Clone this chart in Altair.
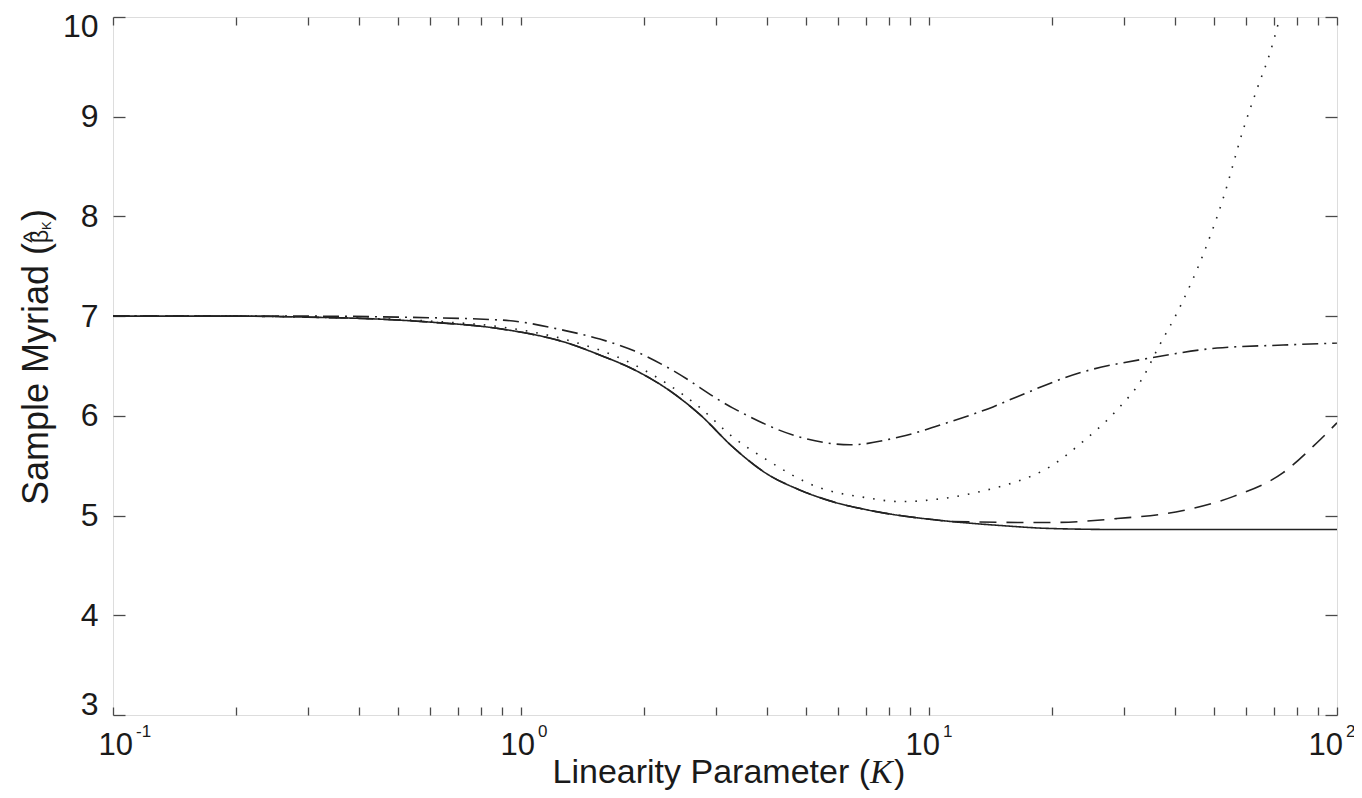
import altair as alt
import pandas as pd

# ---- data ----
k_solid = [0.1, 0.2, 0.3, 0.45, 0.6, 0.9, 1.3, 1.56, 1.9, 2.3, 2.75, 3.3, 4.0, 4.8, 5.8, 7.0, 8.5, 10.2, 15, 20, 30, 50, 100]
v_solid = [7.0, 7.0, 6.99, 6.97, 6.94, 6.87, 6.73, 6.61, 6.46, 6.26, 6.01, 5.69, 5.42, 5.26, 5.14, 5.06, 5.0, 4.96, 4.9, 4.87, 4.86, 4.86, 4.86]

k_dotted = [0.1, 0.2, 0.3, 0.6, 0.9, 1.3, 1.9, 2.75, 3.3, 4.0, 5.3, 7.0, 8.5, 11.2, 14.9, 16.4, 19.8, 23.8, 28.9, 33.5, 36.2, 41.2, 47, 52.6, 58.9, 63.7, 68.5, 72.5]
v_dotted = [7.0, 7.0, 6.99, 6.95, 6.89, 6.76, 6.51, 6.08, 5.79, 5.56, 5.29, 5.18, 5.14, 5.18, 5.29, 5.34, 5.49, 5.74, 6.06, 6.39, 6.66, 7.09, 7.62, 8.18, 8.87, 9.28, 9.64, 10.0]

k_dashdot = [0.1, 0.3, 0.5, 0.9, 1.3, 1.56, 1.9, 2.3, 3.3, 4.8, 6.4, 8.5, 11.25, 14.35, 16.4, 23.8, 34.8, 50.8, 73.8, 100]
v_dashdot = [7.0, 7.0, 6.99, 6.96, 6.85, 6.77, 6.65, 6.48, 6.08, 5.79, 5.71, 5.79, 5.94, 6.09, 6.19, 6.44, 6.58, 6.68, 6.71, 6.73]

k_dashed = [0.1, 0.2, 0.3, 0.45, 0.6, 0.9, 1.3, 1.56, 1.9, 2.3, 2.75, 3.3, 4.0, 4.8, 5.8, 7.0, 8.5, 10.2, 11.25, 19.8, 28.9, 42, 55.6, 73.8, 89.3, 100]
v_dashed = [7.0, 7.0, 6.99, 6.97, 6.94, 6.87, 6.73, 6.61, 6.46, 6.26, 6.01, 5.69, 5.42, 5.26, 5.14, 5.06, 5.0, 4.96, 4.94, 4.93, 4.97, 5.05, 5.19, 5.43, 5.73, 5.93]

x_ticks = [0.1, 0.2, 0.3, 0.4, 0.5, 0.6, 0.7, 0.8, 0.9,
           1, 2, 3, 4, 5, 6, 7, 8, 9,
           10, 20, 30, 40, 50, 60, 70, 80, 90, 100]
y_ticks = [3, 4, 5, 6, 7, 8, 9, 10]
x_label_pos = [0.1, 1, 10, 100]
x_label_exp = ["-1", "0", "1", "2"]

series_order = ["solid", "dotted", "dashdot", "dashed"]

rows = []
for name, ks, vs in [("solid", k_solid, v_solid), ("dotted", k_dotted, v_dotted),
                     ("dashdot", k_dashdot, v_dashdot), ("dashed", k_dashed, v_dashed)]:
    for k, v in zip(ks, vs):
        rows.append({"K": k, "value": v, "series": name})
df = pd.DataFrame(rows)

W, H = 1224, 698
FONT = "Liberation Sans"
INK = "#1a1a1a"
AX = "#4a4a4a"

xscale = alt.Scale(type="log", domain=[0.1, 100], nice=False)
yscale = alt.Scale(domain=[3, 10], nice=False, zero=False)

lines = alt.Chart(df).mark_line(strokeWidth=1.6, color="#222", interpolate="monotone", clip=True).encode(
    x=alt.X("K:Q", scale=xscale,
            axis=alt.Axis(orient="bottom", values=x_ticks, labels=False, title=None, grid=False,
                          domain=False, tickSize=alt.ExprRef("-8"), tickColor=AX, tickWidth=1.3)),
    y=alt.Y("value:Q", scale=yscale,
            axis=alt.Axis(orient="left", values=y_ticks, title=None, grid=False, domain=False,
                          tickSize=alt.ExprRef("-12"), tickColor=AX, tickWidth=1.3,
                          labelFont=FONT, labelFontSize=32, labelColor=INK, labelPadding=27,
                          labelFlush=True, labelFlushOffset=6)),
    strokeDash=alt.StrokeDash("series:N",
                              scale=alt.Scale(domain=series_order,
                                              range=[[1, 0], [1.6, 9], [16, 6, 2, 6], [17, 10]]),
                              legend=None),
    detail="series:N",
)

mirror = alt.Chart(df).mark_line(opacity=0).encode(
    x=alt.X("K:Q", scale=xscale,
            axis=alt.Axis(orient="top", values=x_ticks, labels=False, title=None, grid=False,
                          domain=False, tickSize=alt.ExprRef("-8"), tickColor=AX, tickWidth=1.3)),
    y=alt.Y("value:Q", scale=yscale,
            axis=alt.Axis(orient="right", values=y_ticks, labels=False, title=None, grid=False,
                          domain=False, tickSize=alt.ExprRef("-12"), tickColor=AX, tickWidth=1.3)),
    detail="series:N",
)

# x tick labels: "10" with a raised exponent, one small layer per decade
label_dx = [20, 14, 11, 6]
label_layers = []
for pos, ex, ddx in zip(x_label_pos, x_label_exp, label_dx):
    ldf = pd.DataFrame({"pos": [pos], "exp": [ex]})
    label_layers.append(
        alt.Chart(ldf).mark_text(align="right", baseline="alphabetic", dx=ddx,
                                 font=FONT, fontSize=31, color=INK).encode(
            x=alt.X("pos:Q", scale=xscale, axis=None), y=alt.value(738), text=alt.value("10")))
    label_layers.append(
        alt.Chart(ldf).mark_text(align="left", baseline="alphabetic", dx=ddx + 3,
                                 font=FONT, fontSize=17, color=INK).encode(
            x=alt.X("pos:Q", scale=xscale, axis=None), y=alt.value(720), text="exp:N"))

one = pd.DataFrame({"a": [0]})
XT_Y = 766
xt_main = alt.Chart(one).mark_text(align="right", baseline="alphabetic", font=FONT, fontSize=34, color=INK).encode(
    x=alt.value(757), y=alt.value(XT_Y), text=alt.value("Linearity Parameter ("))
xt_k = alt.Chart(one).mark_text(align="left", baseline="alphabetic", font="Liberation Serif", fontStyle="italic",
                                fontSize=34, color=INK).encode(
    x=alt.value(757), y=alt.value(XT_Y), text=alt.value("K"))
xt_close = alt.Chart(one).mark_text(align="left", baseline="alphabetic", font=FONT, fontSize=34, color=INK).encode(
    x=alt.value(781), y=alt.value(XT_Y), text=alt.value(")"))

# y title: "Sample Myriad (" + hatted beta + subscript K + ")"
yt_main = alt.Chart(one).mark_text(angle=270, align="right", baseline="alphabetic", font=FONT, fontSize=36,
                                   color=INK).encode(
    x=alt.value(-65), y=alt.value(226), text=alt.value("Sample Myriad ("))
yt_beta = alt.Chart(one).mark_text(angle=270, align="left", baseline="alphabetic", font=FONT, fontSize=23,
                                   color=INK).encode(
    x=alt.value(-65), y=alt.value(226), text=alt.value("β"))
yt_hat = alt.Chart(one).mark_text(angle=270, align="center", baseline="alphabetic", font=FONT, fontSize=24,
                                  color=INK).encode(
    x=alt.value(-73), y=alt.value(220), text=alt.value("^"))
yt_k = alt.Chart(one).mark_text(angle=270, align="left", baseline="alphabetic", font=FONT, fontSize=13,
                                color=INK).encode(
    x=alt.value(-62), y=alt.value(213), text=alt.value("K"))
yt_close = alt.Chart(one).mark_text(angle=270, align="left", baseline="alphabetic", font=FONT, fontSize=36,
                                    color=INK).encode(
    x=alt.value(-65), y=alt.value(204), text=alt.value(")"))

chart = alt.layer(lines, mirror, *label_layers, xt_main, xt_k, xt_close,
                  yt_main, yt_beta, yt_hat, yt_k, yt_close).resolve_axis(
    x="independent", y="independent"
).properties(
    width=W, height=H,
    autosize=alt.AutoSizeParams(type="none"),
    padding={"left": 105, "top": 9, "right": 17, "bottom": 75},
).configure_view(stroke=AX, strokeWidth=1.6).configure(background="white")

chart.save("out.html", embed_options={"renderer": "svg", "actions": False})
